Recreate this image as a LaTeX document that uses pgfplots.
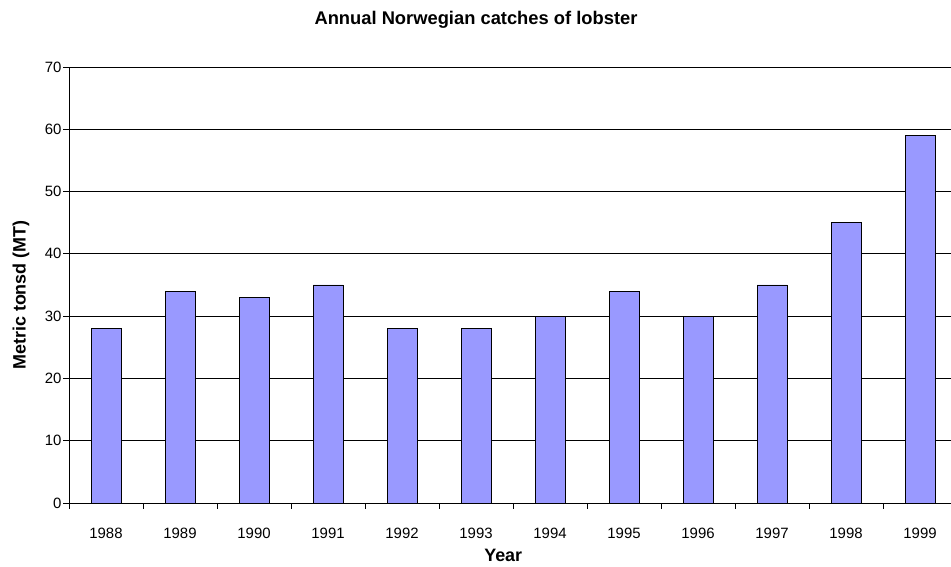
\documentclass[border=0pt]{standalone}
\usepackage{pgfplots}
\pgfplotsset{compat=1.18}
\usepackage{fontspec}
\setmainfont{Liberation Sans}
\definecolor{barblue}{HTML}{9999FF}
\begin{document}
\begin{tikzpicture}[x=1bp,y=1bp]
\useasboundingbox (0,0) rectangle (951,567);
\node[font=\fontsize{18.4}{21}\selectfont\bfseries] at (476,547) {Annual Norwegian catches of lobster};
\begin{axis}[
  at={(69bp,64bp)}, anchor=south west,
  scale only axis, width=888bp, height=436bp,
  xmin=-0.5, xmax=11.5, ymin=0, ymax=70,
  axis x line*=bottom, axis y line*=left,
  axis line style={black, line width=0.9pt, -},
  xtick={0,...,11},
  xticklabels={1988,1989,1990,1991,1992,1993,1994,1995,1996,1997,1998,1999},
  major x tick style={draw=none},
  minor xtick={-0.5,0.5,...,11.5},
  minor tick length=6bp,
  minor x tick style={black, line width=0.9pt},
  ytick={0,10,...,70},
  major tick length=6bp,
  tick align=outside,
  major y tick style={black, line width=0.9pt},
  ymajorgrids, grid style={black, line width=0.8pt},
  tick label style={font=\fontsize{15}{18}\selectfont},
  /pgf/number format/assume math mode=true,
  xticklabel style={anchor=center, at={(axis cs:\tick,0)}, yshift=-24bp},
  yticklabel style={anchor=east, xshift=2bp},
  xlabel={Year}, ylabel={Metric tonsd (MT)},
  label style={font=\fontsize{18}{21}\selectfont\bfseries},
  xlabel style={at={(axis description cs:0.489,-0.12)}, anchor=center},
  ylabel style={at={(axis description cs:-0.054,0.477)}, anchor=center},
  clip=false,
]
\addplot[ybar, bar width=0.405, fill=barblue, draw=black, line width=0.9pt]
 coordinates {(0,28) (1,34) (2,33) (3,35) (4,28) (5,28) (6,30) (7,34) (8,30) (9,35) (10,45) (11,59)};
\end{axis}
\end{tikzpicture}
\end{document}
